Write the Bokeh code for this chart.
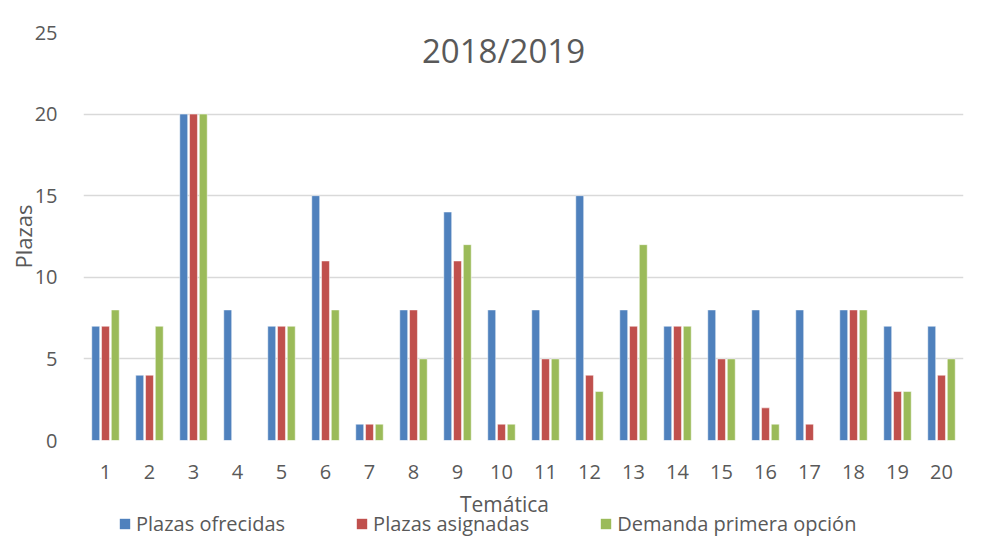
from bokeh.plotting import figure
from bokeh.layouts import column
from bokeh.models import (ColumnDataSource, FactorRange, Range1d, FixedTicker,
                          Legend, LegendItem, Label)
from bokeh.transform import dodge
from bokeh.embed import file_html
from bokeh.resources import INLINE

categories = [str(i) for i in range(1, 21)]
ofrecidas = [7, 4, 20, 8, 7, 15, 1, 8, 14, 8, 8, 15, 8, 7, 8, 8, 8, 8, 7, 7]
asignadas = [7, 4, 20, 0, 7, 11, 1, 8, 11, 1, 5, 4, 7, 7, 5, 2, 1, 8, 3, 4]
demanda = [8, 7, 20, 0, 7, 8, 1, 5, 12, 1, 5, 3, 12, 7, 5, 1, 0, 8, 3, 5]
y_ticks = [0, 5, 10, 15, 20, 25]
series_names = ["Plazas ofrecidas", "Plazas asignadas", "Demanda primera opción"]
colors = ["#4F81BD", "#C0504D", "#9BBB59"]

FONT = "Open Sans"
TXT = "#595959"

source = ColumnDataSource(dict(cat=categories, a=ofrecidas, b=asignadas, c=demanda))

p = figure(width=979, height=484, x_range=FactorRange(*categories, range_padding=0),
           y_range=Range1d(0, 25), output_backend="svg", toolbar_location=None,
           min_border_left=83, min_border_right=16, min_border_top=32, min_border_bottom=44)
p.outline_line_color = None
p.background_fill_color = "white"
p.border_fill_color = "white"

offsets = [-0.222, 0.0, 0.222]
for key, off, col in zip(["a", "b", "c"], offsets, colors):
    p.vbar(x=dodge("cat", off, range=p.x_range), top=key, width=0.18, source=source,
           fill_color=col, line_color="white", line_width=1, line_alpha=0.5)

# axes
p.yaxis.ticker = FixedTicker(ticks=y_ticks)
p.yaxis.axis_line_color = None
p.yaxis.major_tick_line_color = None
p.yaxis.minor_tick_line_color = None
p.yaxis.major_label_standoff = 20
p.yaxis.major_label_text_font = FONT
p.yaxis.major_label_text_font_size = "20px"
p.yaxis.major_label_text_color = TXT
p.yaxis.axis_label = "Plazas"
p.yaxis.axis_label_text_font = FONT
p.yaxis.axis_label_text_font_size = "22px"
p.yaxis.axis_label_text_font_style = "normal"
p.yaxis.axis_label_text_color = TXT
p.yaxis.axis_label_standoff = -6

p.xaxis.axis_line_color = None
p.xaxis.major_tick_line_color = None
p.xaxis.minor_tick_line_color = None
p.xaxis.major_label_standoff = 18
p.xaxis.major_label_text_font = FONT
p.xaxis.major_label_text_font_size = "20px"
p.xaxis.major_label_text_color = TXT

p.xgrid.grid_line_color = None
p.ygrid.grid_line_color = "#D9D9D9"
p.ygrid.grid_line_width = 1.5

title = Label(x=420, y=390, x_units="screen", y_units="screen", text="2018/2019",
              text_font=FONT, text_font_size="33px", text_color=TXT,
              text_align="center", text_baseline="middle")
p.add_layout(title)

# lower panel: x-axis title and legend (frame aligned with the main plot's frame)
q = figure(width=979, height=54, output_backend="svg", toolbar_location=None,
           x_axis_location=None, y_axis_location=None,
           min_border_left=83, min_border_right=16, min_border_top=0, min_border_bottom=0,
           x_range=FactorRange(*categories, range_padding=0), y_range=Range1d(0, 25))
q.outline_line_color = None
q.xgrid.grid_line_color = None
q.ygrid.grid_line_color = None

xlabel = Label(x=421, y=35, x_units="screen", y_units="screen", text="Temática",
               text_font=FONT, text_font_size="21px", text_color=TXT,
               text_align="center", text_baseline="alphabetic")
q.add_layout(xlabel)

swatches = []
for key, col in zip(["a", "b", "c"], colors):
    r = q.vbar(x="cat", top=key, width=0.18, source=source, fill_color=col, line_color=None)
    r.visible = False
    swatches.append(r)

legend = Legend(items=[LegendItem(label=n, renderers=[r]) for n, r in zip(series_names, swatches)],
                orientation="horizontal", location=(35, 1))
legend.border_line_color = None
legend.background_fill_alpha = 0
legend.inactive_fill_alpha = 0
legend.glyph_width = 13
legend.glyph_height = 13
legend.label_text_font = FONT
legend.label_text_font_size = "20px"
legend.label_text_color = TXT
legend.label_height = 18
legend.spacing = 70
legend.padding = 0
legend.margin = 0
legend.label_standoff = 5
q.add_layout(legend, "center")

open("out.html", "w").write(file_html(column(p, q, spacing=0), INLINE))
